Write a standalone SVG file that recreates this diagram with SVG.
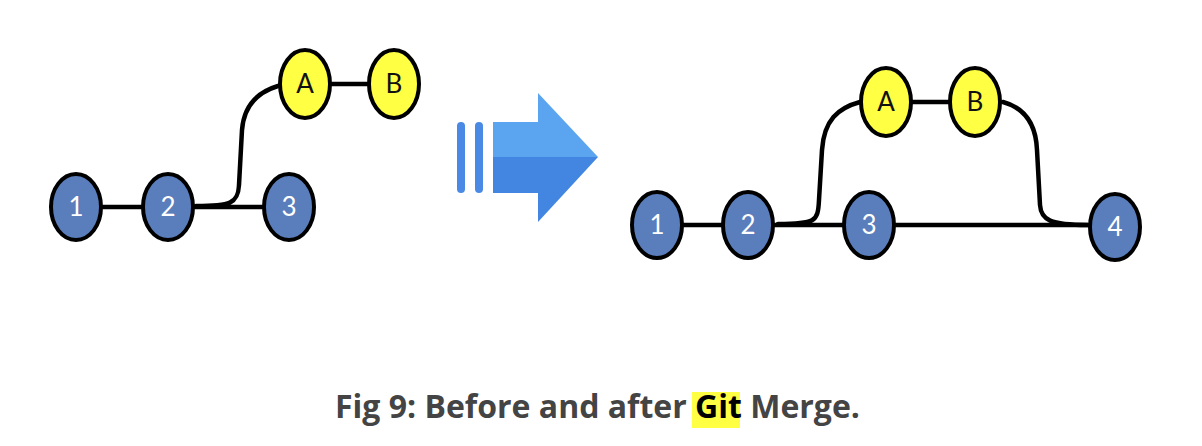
<svg xmlns="http://www.w3.org/2000/svg" width="1202" height="446" viewBox="0 0 1202 446">
<style>
.edge{fill:none;stroke:#000;stroke-width:4.5;stroke-linecap:round}
.blue{fill:#5a7dbb;stroke:#000;stroke-width:4}
.yel{fill:#ffff44;stroke:#000;stroke-width:4}
.lw{font-family:Lato,"Liberation Sans",sans-serif;font-size:26px;fill:#fff;text-anchor:middle}
.lb{font-family:Lato,"Liberation Sans",sans-serif;font-size:26px;fill:#111;text-anchor:middle}
</style>
<rect width="1202" height="446" fill="#fff"/>
<g id="connectors">
<path class="edge" d="M103,207 L142,207"/>
<path class="edge" d="M195,207 L262,207"/>
<path class="edge" d="M196,206 C230,206 238,204 239,185 L242,130 C244,105 258,92 278,86"/>
<path class="edge" d="M332,84 L367,84"/>
<path class="edge" d="M683,225 L722,225"/>
<path class="edge" d="M775,225 L843,225"/>
<path class="edge" d="M896,225 L1088,225"/>
<path class="edge" d="M778,224 C815,224 818,222 819,200 L822,150 C824,120 838,108 860,102"/>
<path class="edge" d="M912,102 L948,102"/>
<path class="edge" d="M1003,102 C1025,108 1036,125 1037,150 L1040,205 C1041,220 1050,225 1088,225"/>
</g>
<g id="arrow">
<rect x="457" y="122" width="8" height="71" rx="4" fill="#4a8ae4"/>
<rect x="475" y="122" width="8" height="71" rx="4" fill="#4a8ae4"/>
<polygon points="493,122 538,122 538,93 598,157 493,157" fill="#5ba4ef"/>
<polygon points="493,157 598,157 538,222 538,193 493,193" fill="#4286e2"/>
</g>
<g id="before-1"><ellipse class="blue" cx="76" cy="207" rx="25" ry="33"/><text class="lw" x="76" y="216">1</text></g>
<g id="before-2"><ellipse class="blue" cx="168" cy="207" rx="25" ry="33"/><text class="lw" x="168" y="216">2</text></g>
<g id="before-3"><ellipse class="blue" cx="289" cy="207" rx="25" ry="33"/><text class="lw" x="289" y="216">3</text></g>
<g id="before-A"><ellipse class="yel" cx="305" cy="84" rx="25" ry="34"/><text class="lb" x="305" y="93">A</text></g>
<g id="before-B"><ellipse class="yel" cx="394" cy="84" rx="25" ry="34"/><text class="lb" x="394" y="93">B</text></g>
<g id="after-1"><ellipse class="blue" cx="657" cy="225" rx="25" ry="33"/><text class="lw" x="657" y="234">1</text></g>
<g id="after-2"><ellipse class="blue" cx="748" cy="225" rx="25" ry="33"/><text class="lw" x="748" y="234">2</text></g>
<g id="after-3"><ellipse class="blue" cx="869" cy="225" rx="25" ry="33"/><text class="lw" x="869" y="234">3</text></g>
<g id="after-4"><ellipse class="blue" cx="1115" cy="227" rx="25" ry="33"/><text class="lw" x="1115" y="236">4</text></g>
<g id="after-A"><ellipse class="yel" cx="886" cy="102" rx="25" ry="34"/><text class="lb" x="886" y="111">A</text></g>
<g id="after-B"><ellipse class="yel" cx="975" cy="102" rx="25" ry="34"/><text class="lb" x="975" y="111">B</text></g>
<g id="caption">
<rect x="692" y="392" width="48" height="36" fill="#ffff44"/>
<text x="335" y="418" font-family="'Open Sans','Liberation Sans',sans-serif" font-size="32" font-weight="bold" fill="#444">Fig 9: Before and after <tspan fill="#000">Git</tspan> Merge.</text>
</g>
</svg>
